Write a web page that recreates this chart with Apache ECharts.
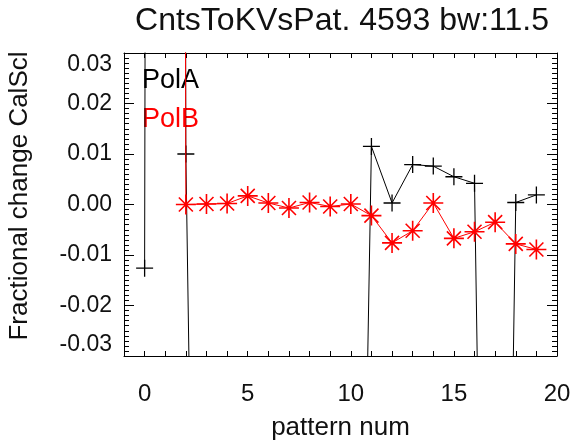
<!DOCTYPE html>
<html>
<head>
<meta charset="utf-8">
<script src="https://cdn.jsdelivr.net/npm/echarts@6/dist/echarts.min.js"></script>
<style>html,body{margin:0;padding:0;background:#fff}#c{width:574px;height:446px}</style>
</head>
<body>
<div id="c"></div>
<script>
var patternNums = [0,1,2,3,4,5,6,7,8,9,10,11,12,13,14,15,16,17,18,19];
var polA = [-0.0126, 2.0, 0.0100, -0.26, -0.25, -0.25, -0.25, -0.25, -0.25, -0.25, -0.22, 0.0115, 0.0003, 0.0079, 0.0076, 0.0055, 0.0042, -0.26, 0.0004, 0.0019];
var polB = [2.0, 2.0, 0.0000, 0.0001, 0.0002, 0.0017, 0.0003, -0.0007, 0.0004, -0.0004, 0.0001, -0.0022, -0.0076, -0.0052, 0.0003, -0.0067, -0.0054, -0.0035, -0.0078, -0.0089];
var xTickLabels = [0,5,10,15,20];
var yTickLabels = [-0.03,-0.02,-0.01,0.00,0.01,0.02,0.03];
var titleText = 'CntsToKVsPat. 4593 bw:11.5';
var xName = 'pattern num';
var yName = 'Fractional change CalScl';
var seriesNames = ['PolA','PolB'];

var FONT = '"Liberation Sans", Arial, Helvetica, sans-serif';
function pairs(v){ return patternNums.map(function(x,i){ return [x, v[i]]; }); }
var chart = echarts.init(document.getElementById('c'), null, {renderer:'canvas'});
var axisLine = {show:true, onZero:false, lineStyle:{color:'#000', width:1}};
var option = {
  backgroundColor:'#fff',
  animation:false,
  grid:{left:124, right:17, top:53, bottom:88, containLabel:false},
  xAxis:[{
    type:'value', min:-1, max:20, interval:1, position:'bottom',
    axisLine:axisLine,
    axisTick:{show:true, inside:true, length:5, lineStyle:{color:'#000'}},
    splitLine:{show:false},
    axisLabel:{show:true, margin:26, fontSize:24, color:'#111', fontFamily:FONT,
      formatter:function(v){ var r=Math.round(v); return (xTickLabels.indexOf(r)>=0 && Math.abs(v-r)<1e-9) ? String(r) : ''; }},
    name:xName, nameLocation:'middle', nameGap:59,
    nameTextStyle:{fontSize:26, color:'#111', fontFamily:FONT}
  },{
    type:'value', min:-1, max:20, interval:1, position:'top',
    axisLine:axisLine,
    axisTick:{show:true, inside:true, length:5, lineStyle:{color:'#000'}},
    splitLine:{show:false}, axisLabel:{show:false}
  }],
  yAxis:[{
    type:'value', min:-0.03, max:0.03, interval:0.01, position:'left',
    axisLine:axisLine,
    axisTick:{show:true, inside:true, length:10, lineStyle:{color:'#000'}},
    minorTick:{show:true, splitNumber:10, length:5, lineStyle:{color:'#000'}},
    splitLine:{show:false}, minorSplitLine:{show:false},
    axisLabel:{show:true, margin:12, fontSize:23, color:'#111', fontFamily:FONT,
      verticalAlignMaxLabel:'top', verticalAlignMinLabel:'bottom',
      formatter:function(v){
        var best = yTickLabels.reduce(function(a,b){ return Math.abs(b-v)<Math.abs(a-v)?b:a; });
        return Math.abs(best)<1e-9 ? '0.00' : best.toFixed(2);
      }}
  },{
    type:'value', min:-0.03, max:0.03, interval:0.01, position:'right',
    axisLine:axisLine,
    axisTick:{show:true, inside:true, length:10, lineStyle:{color:'#000'}},
    minorTick:{show:true, splitNumber:10, length:5, lineStyle:{color:'#000'}},
    splitLine:{show:false}, minorSplitLine:{show:false}, axisLabel:{show:false}
  }],
  graphic:[
    {type:'text', x:342, y:5, style:{text:titleText, fontSize:32, fontFamily:FONT, fill:'#111', textAlign:'center'}},
    {type:'text', x:20, y:196, rotation:Math.PI/2, style:{text:yName, fontSize:26, fontFamily:FONT, fill:'#111', textAlign:'center', textVerticalAlign:'middle'}},
    {type:'text', x:142, y:67, style:{text:seriesNames[0], fontSize:27, fontFamily:FONT, fill:'#000'}},
    {type:'text', x:142, y:106, style:{text:seriesNames[1], fontSize:27, fontFamily:FONT, fill:'#ff0000'}}
  ],
  series:[{
    name:seriesNames[0], type:'line', data:pairs(polA), clip:true,
    symbol:'path://M-10,0L10,0M0,-10L0,10', symbolSize:17,
    lineStyle:{color:'#000', width:1},
    itemStyle:{color:'#000', borderColor:'#000', borderWidth:1.3},
    z:3
  },{
    name:seriesNames[1], type:'line', data:pairs(polB), clip:true,
    symbol:'path://M0,-10L0,10M-10,0L10,0M-7,-7L7,7M-7,7L7,-7', symbolSize:20,
    lineStyle:{color:'#ff0000', width:1},
    itemStyle:{color:'#ff0000', borderColor:'#ff0000', borderWidth:1.6},
    z:4
  }]
};
chart.setOption(option);
</script>
</body>
</html>
